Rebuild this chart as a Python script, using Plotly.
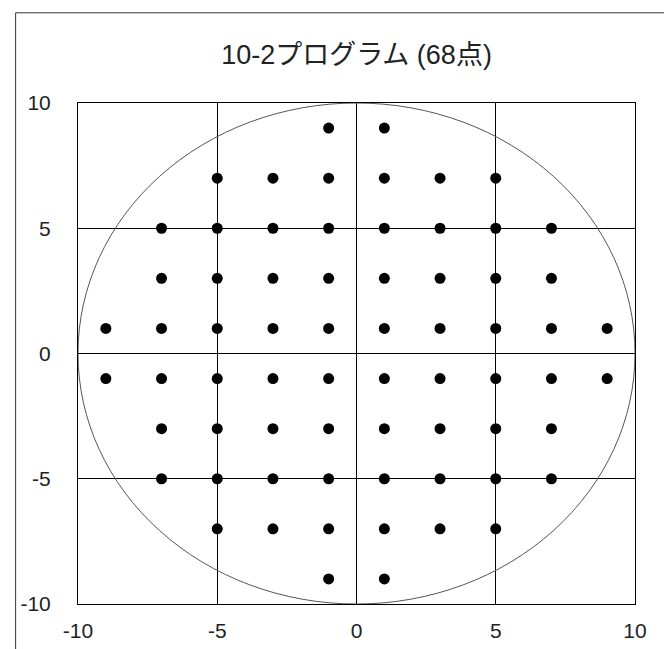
import plotly.graph_objects as go

# 10-2 program test point locations (degrees)
pt_x = [-1, 1,
        -5, -3, -1, 1, 3, 5,
        -7, -5, -3, -1, 1, 3, 5, 7,
        -7, -5, -3, -1, 1, 3, 5, 7,
        -9, -7, -5, -3, -1, 1, 3, 5, 7, 9,
        -9, -7, -5, -3, -1, 1, 3, 5, 7, 9,
        -7, -5, -3, -1, 1, 3, 5, 7,
        -7, -5, -3, -1, 1, 3, 5, 7,
        -5, -3, -1, 1, 3, 5,
        -1, 1]
pt_y = [9, 9,
        7, 7, 7, 7, 7, 7,
        5, 5, 5, 5, 5, 5, 5, 5,
        3, 3, 3, 3, 3, 3, 3, 3,
        1, 1, 1, 1, 1, 1, 1, 1, 1, 1,
        -1, -1, -1, -1, -1, -1, -1, -1, -1, -1,
        -3, -3, -3, -3, -3, -3, -3, -3,
        -5, -5, -5, -5, -5, -5, -5, -5,
        -7, -7, -7, -7, -7, -7,
        -9, -9]
tick_vals = [-10, -5, 0, 5, 10]
tick_text = ["-10", "-5", "0", "5", "10"]
circle_radius = 10
title_text = "10-2プログラム (68点)"

fig = go.Figure()
fig.add_trace(go.Scatter(x=pt_x, y=pt_y, mode="markers",
                         marker=dict(color="black", size=11), showlegend=False,
                         hoverinfo="skip"))

fig.add_shape(type="circle", xref="x", yref="y",
              x0=-circle_radius, y0=-circle_radius, x1=circle_radius, y1=circle_radius,
              line=dict(color="#555555", width=1))
# outer chart frame
fig.add_shape(type="rect", xref="paper", yref="paper",
              x0=-0.112, x1=1.056, y0=-0.2, y1=1.18,
              line=dict(color="#333333", width=1), layer="below")

axis_common = dict(range=[-10, 10], tickvals=tick_vals, ticktext=tick_text,
                   showgrid=True, gridcolor="black", gridwidth=1,
                   zeroline=True, zerolinecolor="black", zerolinewidth=1,
                   showline=True, linecolor="black", linewidth=1, mirror=True,
                   tickfont=dict(family="Liberation Sans, Arial", size=21, color="#222"),
                   ticks="")
fig.update_xaxes(**axis_common, ticklabelstandoff=8)
fig.update_yaxes(**axis_common, ticklabelstandoff=22)

fig.update_layout(
    width=672, height=649,
    margin=dict(l=67, r=45, t=95, b=53),
    paper_bgcolor="white", plot_bgcolor="white",
    title=dict(text=title_text, x=0.5, xref="paper", xanchor="center",
               y=1 - 47 / 649, yanchor="middle", yref="container",
               font=dict(family="Liberation Sans, Noto Sans CJK JP", size=27, color="#222")),
)
fig.write_html("out.html")
